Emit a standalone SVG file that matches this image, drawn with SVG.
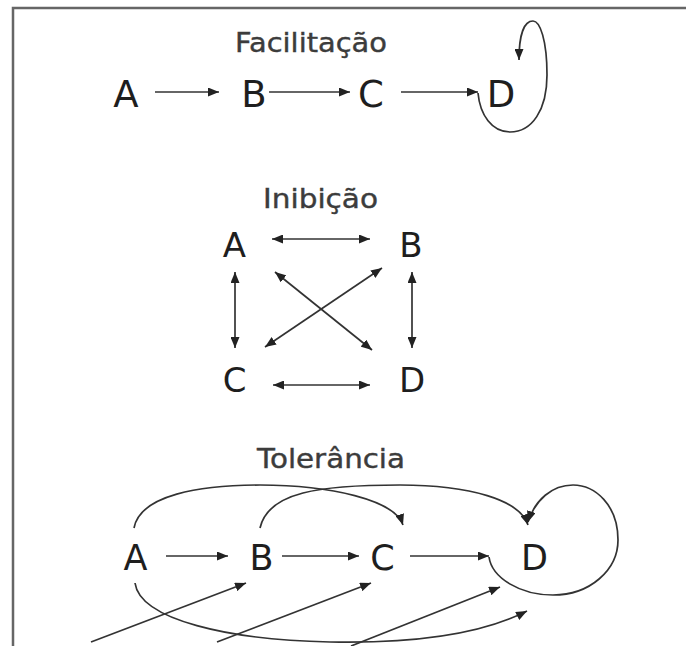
<svg xmlns="http://www.w3.org/2000/svg" width="686" height="646" viewBox="0 0 686 646">
<defs>
<marker id="ah" viewBox="0 0 11 9" refX="11" refY="4.5" markerWidth="11" markerHeight="9" markerUnits="userSpaceOnUse" orient="auto-start-reverse"><path d="M0,0 L11,4.5 L0,9 z" fill="#222"/></marker>
<style>
.node{font-family:"DejaVu Sans","Liberation Sans",sans-serif;fill:#1e1e1e;text-anchor:middle}
.title{font-family:"DejaVu Sans","Liberation Sans",sans-serif;font-size:26px;fill:#3c3c3c;text-anchor:middle;stroke:#3c3c3c;stroke-width:0.4}
.c{fill:none;stroke:#333;stroke-width:1.7}
.e{marker-end:url(#ah)}
.b{marker-start:url(#ah);marker-end:url(#ah)}
</style>
</defs>
<rect width="686" height="646" fill="#fff"/>
<path d="M13,646 V8 H686" fill="none" stroke="#666" stroke-width="2.5"/>

<text class="title" x="311" y="52" textLength="152" lengthAdjust="spacingAndGlyphs">Facilitação</text>
<text class="title" x="320.5" y="208" textLength="115" lengthAdjust="spacingAndGlyphs">Inibição</text>
<text class="title" x="331" y="468" textLength="148" lengthAdjust="spacingAndGlyphs">Tolerância</text>

<g id="fac-A"><text class="node" x="126" y="107" font-size="37">A</text></g>
<g id="fac-B"><text class="node" x="254" y="107" font-size="37">B</text></g>
<g id="fac-C"><text class="node" x="371" y="107" font-size="37">C</text></g>
<g id="fac-D"><text class="node" x="501" y="107" font-size="37">D</text></g>

<g id="ini-A"><text class="node" x="234.5" y="257" font-size="34">A</text></g>
<g id="ini-B"><text class="node" x="411" y="257" font-size="34">B</text></g>
<g id="ini-C"><text class="node" x="234.5" y="392" font-size="34">C</text></g>
<g id="ini-D"><text class="node" x="412" y="392" font-size="34">D</text></g>

<g id="tol-A"><text class="node" x="135.5" y="570" font-size="35">A</text></g>
<g id="tol-B"><text class="node" x="261.5" y="570" font-size="35">B</text></g>
<g id="tol-C"><text class="node" x="382.5" y="570" font-size="35">C</text></g>
<g id="tol-D"><text class="node" x="534.5" y="570" font-size="35">D</text></g>

<g id="connectors">
<!-- Facilitação -->
<path class="c e" d="M155,92 H219"/>
<path class="c e" d="M269,92 H350"/>
<path class="c e" d="M401,92 H478"/>
<path class="c e" d="M478,93 C480,115 492,132 510,132 C532,132 547,110 547,75 C547,40 540,21 533,21 C524,21 519,35 519,60"/>
<!-- Inibição -->
<path class="c b" d="M272,239 H370"/>
<path class="c b" d="M273,385 H370"/>
<path class="c b" d="M235,272 V348"/>
<path class="c b" d="M412,272 V348"/>
<path class="c b" d="M275,272 L372,350"/>
<path class="c b" d="M382,268 L265,347"/>
<!-- Tolerância -->
<path class="c e" d="M166,556 H228"/>
<path class="c e" d="M282,556 H359"/>
<path class="c e" d="M410,556 H489"/>
<path class="c e" d="M489,557 C492,578 520,595 553,595 C590,595 618,570 618,540 C618,505 595,485 573,485 C552,485 535,500 528,522"/>
<path class="c e" d="M134,528 C140,495 200,485 260,485 C330,485 395,500 403,525"/>
<path class="c e" d="M260,528 C268,492 320,485 400,485 C470,485 520,500 528,525"/>
<path class="c e" d="M135,583 C140,620 230,640 330,642 C430,644 490,630 527,611"/>
<path class="c e" d="M91,642 L246,583"/>
<path class="c e" d="M217,642 L371,583"/>
<path class="c e" d="M351,646 L500,587"/>
</g>
</svg>
